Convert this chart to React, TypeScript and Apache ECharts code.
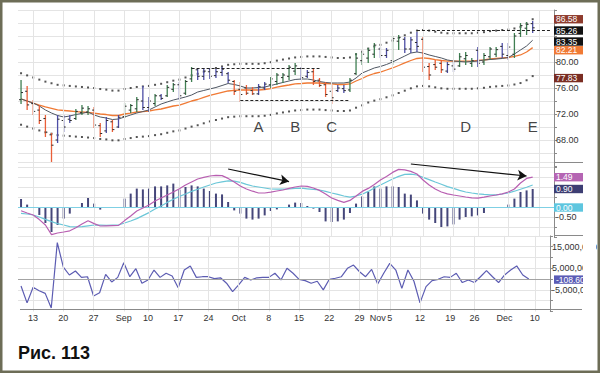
import React, { useEffect, useRef } from 'react';
import * as echarts from 'echarts';

// ---- categories (trading days, 2007) ----
const dates = [
  '08-09','08-10','08-13','08-14','08-15','08-16','08-17','08-20','08-21','08-22','08-23','08-24','08-27','08-28','08-29','08-30','08-31',
  '09-04','09-05','09-06','09-07','09-10','09-11','09-12','09-13','09-14','09-17','09-18','09-19','09-20','09-21','09-24','09-25','09-26','09-27','09-28',
  '10-01','10-02','10-03','10-04','10-05','10-08','10-09','10-10','10-11','10-12','10-15','10-16','10-17','10-18','10-19','10-22','10-23','10-24','10-25','10-26','10-29','10-30','10-31',
  '11-01','11-02','11-05','11-06','11-07','11-08','11-09','11-12','11-13','11-14','11-15','11-16','11-19','11-20','11-21','11-23','11-26','11-27','11-28','11-29','11-30',
  '12-03','12-04','12-05','12-06','12-07','12-10','12-11','12-12'
];
const labelDates = ['08-13','08-20','08-27','09-04','09-10','09-17','09-24','10-01','10-08','10-15','10-22','10-29','11-01','11-05','11-12','11-19','11-26','12-03','12-10'];
const labelTexts = ['13','20','27','Sep','10','17','24','Oct','8','15','22','29','Nov','5','12','19','26','Dec','10'];

// ---- price bars ----
const highs = [77.23,76.31,74.15,73.38,71.85,69.08,71.85,71.85,71.85,72.77,73.38,73.23,73.08,70.62,71.54,71.08,71.85,73.69,73.54,74.62,76.31,74.62,75.08,75.08,76.46,76.77,76.92,77.23,79.23,78.92,79.08,79.08,78.92,79.23,78.46,77.23,76.92,76.46,76.15,76.62,76.92,77.69,78.31,78.31,79.54,79.85,79.23,78.77,78.92,77.54,76.92,76.46,76.46,76.46,77.54,81.38,81.54,82.15,82.92,82.31,82.15,84.00,84.15,83.85,83.85,84.62,83.85,79.85,80.31,80.31,80.00,80.00,81.38,81.54,80.62,82.31,81.38,82.31,82.31,82.92,82.92,84.46,86.00,86.15,86.31];
const lows = [73.54,72.62,71.85,70.46,68.46,64.62,67.54,69.23,70.62,71.08,71.85,71.85,69.85,68.46,69.08,69.23,69.85,71.38,72.15,72.31,72.62,72.31,73.23,74.15,74.62,75.38,74.15,74.92,76.92,77.23,77.23,77.38,77.54,77.85,76.77,74.92,73.85,74.92,74.92,74.92,75.69,76.00,76.46,76.77,77.23,78.00,77.23,77.54,76.46,76.15,74.62,73.54,75.38,75.23,75.38,78.00,79.54,79.85,80.62,80.62,80.62,79.54,81.85,81.38,81.38,81.54,78.46,77.23,78.77,78.31,78.31,78.46,79.23,79.54,79.23,79.23,79.54,80.31,80.77,80.62,80.31,80.62,83.85,84.15,84.46];
const opens = [74.2,75.5,73.6,72.6,71.3,68.8,68.0,71.0,71.2,71.3,72.2,72.3,72.6,70.2,69.4,70.8,70.0,71.6,72.6,72.8,74.0,73.0,73.6,74.8,74.8,75.8,76.5,75.2,77.4,78.8,77.8,78.5,77.9,78.4,78.2,77.0,75.8,76.0,75.6,75.1,76.0,76.5,77.0,77.6,77.8,78.6,79.0,77.8,78.5,77.2,76.5,75.5,75.6,75.9,75.7,78.2,80.2,80.6,81.2,82.0,81.0,80.2,83.2,83.5,82.0,83.0,83.5,79.3,79.6,79.8,78.6,79.4,79.4,80.5,79.8,81.8,80.0,80.8,81.2,82.4,81.0,81.2,84.4,85.2,85.9];
const closes = [75.3,73.4,72.4,71.0,69.2,67.2,71.2,70.0,71.0,72.4,72.9,72.8,70.3,69.0,71.0,69.6,71.5,73.2,73.3,74.2,73.0,74.0,74.8,74.4,76.1,76.5,74.8,77.0,79.0,77.8,78.6,77.8,78.5,78.9,77.2,75.5,75.0,75.2,75.1,76.2,76.6,77.4,78.0,78.0,79.2,79.4,77.6,78.4,77.0,76.4,75.0,74.5,76.0,75.6,77.2,80.6,81.2,81.8,82.6,81.0,81.8,83.6,83.8,82.0,83.4,82.4,79.2,78.0,79.2,78.8,79.6,78.9,80.8,81.0,80.2,79.8,81.0,82.0,81.9,81.2,82.3,84.0,85.6,85.8,85.26];
// bar colour code: g = green, b = blue, r = red
const impulse = ('grrrrrbbbg' + 'ggrrbrbggg' + 'bbgbggbggb' + 'bbbbbrrrrb' + 'bgggggbbrr' + 'rrbbgggggb' + 'bggbbbrrrr' + 'bbgggbgggb' + 'bgggb').split('');

// ---- moving averages and channel ----
const fastEMA = [74.31,74.00,73.69,73.23,72.62,72.15,71.77,71.54,71.69,71.92,72.08,72.31,71.85,71.54,71.38,71.15,71.23,71.54,71.85,72.15,72.38,72.62,73.08,73.54,73.85,74.15,74.38,74.62,74.92,75.38,75.62,75.85,76.08,76.38,76.69,76.54,76.31,76.00,76.00,76.08,76.15,76.38,76.62,76.85,77.08,77.31,77.38,77.38,77.23,77.00,76.85,76.77,76.77,76.77,76.92,77.54,78.31,78.69,79.08,79.31,79.62,80.00,80.46,80.92,81.38,81.54,81.38,81.08,80.85,80.62,80.31,80.15,80.08,80.00,80.08,80.15,80.31,80.38,80.46,80.54,80.69,81.23,81.85,82.46,83.35];
const slowEMA = [74.31,74.00,73.69,73.38,73.08,72.85,72.62,72.54,72.46,72.38,72.31,72.23,72.15,72.00,71.92,71.77,71.77,72.00,72.15,72.31,72.38,72.46,72.62,72.77,73.00,73.23,73.38,73.69,74.00,74.23,74.54,74.85,75.08,75.31,75.54,75.62,75.69,75.69,75.69,75.69,75.77,75.92,76.15,76.31,76.46,76.62,76.69,76.77,76.77,76.77,76.69,76.62,76.54,76.54,76.62,77.08,77.46,77.92,78.23,78.46,78.77,79.08,79.46,79.85,80.23,80.54,80.62,80.54,80.38,80.23,80.15,80.15,80.15,80.15,80.15,80.23,80.31,80.46,80.54,80.62,80.69,80.85,81.08,81.54,82.21];
const upperEnv = [78.27,77.94,77.62,77.29,76.98,76.73,76.49,76.41,76.32,76.24,76.16,76.08,76.00,75.84,75.75,75.60,75.60,75.84,76.00,76.16,76.24,76.32,76.49,76.65,76.89,77.13,77.29,77.62,77.94,78.19,78.51,78.84,79.08,79.32,79.57,79.65,79.72,79.72,79.72,79.72,79.81,79.97,80.21,80.38,80.54,80.70,80.78,80.86,80.86,80.86,80.78,80.70,80.62,80.62,80.70,81.19,81.59,82.07,82.40,82.64,82.97,83.30,83.70,84.11,84.51,84.83,84.92,84.83,84.66,84.51,84.42,84.42,84.42,84.42,84.42,84.51,84.59,84.75,84.83,84.92,84.99,85.16,85.40,85.89,86.58];
const lowerEnv = [70.35,70.06,69.76,69.47,69.19,68.97,68.75,68.67,68.60,68.52,68.46,68.38,68.30,68.16,68.09,67.95,67.95,68.16,68.30,68.46,68.52,68.60,68.75,68.89,69.11,69.33,69.47,69.76,70.06,70.27,70.57,70.86,71.08,71.30,71.51,71.59,71.66,71.66,71.66,71.66,71.73,71.87,72.09,72.24,72.39,72.54,72.60,72.68,72.68,72.68,72.60,72.54,72.46,72.46,72.54,72.97,73.33,73.77,74.06,74.28,74.57,74.87,75.23,75.59,75.95,76.25,76.32,76.25,76.10,75.95,75.88,75.88,75.88,75.88,75.88,75.95,76.03,76.17,76.25,76.32,76.39,76.54,76.76,77.19,77.83];

// ---- MACD panel ----
const macdLine = [-0.19,-0.30,-0.40,-0.63,-0.90,-1.38,-1.30,-1.25,-1.19,-1.04,-0.85,-0.69,-0.83,-0.95,-0.94,-0.93,-0.92,-0.68,-0.45,-0.20,-0.05,0.10,0.30,0.45,0.60,0.75,0.91,1.10,1.25,1.40,1.48,1.55,1.58,1.57,1.43,1.25,1.05,0.90,0.79,0.70,0.70,0.74,0.80,0.85,0.93,1.00,1.05,1.03,0.95,0.83,0.65,0.45,0.33,0.23,0.33,0.55,0.78,0.93,1.13,1.35,1.53,1.73,1.88,1.86,1.78,1.65,1.35,1.10,0.90,0.75,0.66,0.60,0.55,0.50,0.46,0.44,0.49,0.55,0.60,0.66,0.75,0.90,1.20,1.43,1.49];
const signalLine = [-0.32,-0.35,-0.40,-0.50,-0.62,-0.73,-0.83,-0.90,-0.98,-0.99,-0.98,-0.94,-0.90,-0.91,-0.92,-0.91,-0.90,-0.80,-0.70,-0.58,-0.43,-0.28,-0.10,0.05,0.23,0.39,0.53,0.65,0.78,0.89,1.00,1.10,1.20,1.26,1.31,1.29,1.23,1.13,1.05,1.00,0.95,0.90,0.89,0.89,0.90,0.93,0.94,0.91,0.88,0.85,0.78,0.70,0.63,0.55,0.49,0.55,0.64,0.78,0.95,1.10,1.25,1.40,1.53,1.63,1.64,1.60,1.48,1.37,1.25,1.14,1.02,0.93,0.83,0.75,0.70,0.66,0.63,0.61,0.61,0.65,0.70,0.79,0.89,0.99,1.10];
const histogram = [0.40,0.12,-0.05,-0.40,-0.80,-1.25,-0.90,-0.58,-0.33,-0.03,0.20,0.45,0.17,-0.13,-0.05,-0.03,-0.03,0.42,0.67,0.92,0.88,0.92,1.03,1.03,1.08,1.17,0.87,1.00,1.08,1.03,0.92,0.80,0.67,0.63,0.25,-0.17,-0.33,-0.58,-0.63,-0.58,-0.42,-0.20,-0.12,-0.05,0.12,0.22,0.20,0.05,-0.08,-0.25,-0.72,-0.75,-0.72,-0.63,-0.30,0.17,0.53,0.75,1.03,0.92,1.03,1.03,1.00,0.67,0.62,0.33,-0.33,-0.63,-0.80,-1.00,-0.97,-0.87,-0.63,-0.50,-0.47,-0.42,-0.30,-0.05,-0.03,-0.02,0.12,0.42,0.75,0.83,0.90];

// ---- Force index (millions) ----
const forceIndex = [-3.2,-11.0,-3.8,-5.4,-6.6,-13.4,16.9,5.5,1.9,3.75,0.8,1.1,-7.8,-6.3,2.2,-1.3,0.8,7.6,1.1,4.8,-1.9,-0.4,4.2,0.8,2.7,1.4,-4.0,4.2,6.1,0.8,1.1,1.1,0.2,0.6,-1.9,-5.8,-2.7,0.8,-0.4,0.6,0.8,0.8,2.7,-0.4,5.0,2.7,-0.1,-0.7,-1.9,-1.0,-5.0,-0.1,0.4,1.1,5.0,6.5,3.4,1.1,4.5,-2.3,2.7,7.3,4.2,-4.3,4.2,-1.0,-11.0,-3.5,-0.7,-0.1,1.1,0.8,2.7,-1.6,-0.4,-1.6,1.1,3.9,1.1,-1.6,1.9,4.2,6.1,1.9,-0.0001086];

// ---- annotations ----
const letterNames = ['A', 'B', 'C', 'D', 'E'];
const letterIdx = [39, 45, 51, 73, 84];
const letterPrice = [70.15, 70.15, 70.15, 70.15, 70.15];
const hLines = [
  { from: 28, to: 49, value: 79.05 },
  { from: 36, to: 54, value: 74.05 },
  { from: 65, to: 87, value: 84.95 },
];
const arrows = [
  { from: [34, 1.9], to: [44, 1.27] },
  { from: [64, 2.15], to: [83, 1.55] },
];

const FONT = '"Liberation Sans", Arial, sans-serif';
const GRID_COLOR = '#e4e4e4';
const AXIS_COLOR = '#8a8a8a';
const barColors: Record<string, string> = { g: '#3f7f52', b: '#4d4ea6', r: '#ea5f38' };

export default function App() {
  const ref = useRef<HTMLDivElement>(null);

  useEffect(() => {
    const el = ref.current;
    if (!el) return;
    const chart = echarts.init(el, null, { renderer: 'svg' });

    const labelMap = new Map<string, string>();
    labelDates.forEach((d, k) => labelMap.set(d, labelTexts[k]));
    const labelIdx = dates.map((d, i) => (labelMap.has(d) ? i : -1)).filter((i) => i >= 0);

    const xAxisFor = (gi: number, showLabels: boolean) => ({
      type: 'category',
      gridIndex: gi,
      data: dates,
      boundaryGap: true,
      axisLine: { show: false },
      axisTick: { show: false },
      splitLine: { show: false },
      axisLabel: showLabels
        ? {
            interval: (i: number) => labelMap.has(dates[i]),
            formatter: (v: string) => labelMap.get(v) ?? '',
            fontSize: 9,
            color: '#333',
            margin: 2,
            fontFamily: FONT,
          }
        : { show: false },
    });

    const yAxisBase = {
      type: 'value',
      position: 'right',
      axisLine: { show: true, lineStyle: { color: AXIS_COLOR } },
      axisTick: { show: true, length: 3, lineStyle: { color: AXIS_COLOR } },
      splitLine: { show: true, showMinLine: false, lineStyle: { color: GRID_COLOR } },
    };

    const vGrid = (gi: number) => ({
      type: 'line',
      xAxisIndex: gi,
      yAxisIndex: gi,
      data: closes.map(() => null),
      symbol: 'none',
      silent: true,
      z: 1,
      lineStyle: { opacity: 0 },
      markLine: {
        silent: true,
        symbol: 'none',
        animation: false,
        label: { show: false },
        lineStyle: { color: GRID_COLOR, type: 'solid', width: 1 },
        data: labelIdx.map((i) => ({ xAxis: i })),
      },
    });

    const ohlc = highs.map((h, i) => [i, opens[i], closes[i], lows[i], h, impulse[i] === 'g' ? 0 : impulse[i] === 'b' ? 1 : 2]);
    const codeColors = [barColors.g, barColors.b, barColors.r];

    const option: any = {
      animation: false,
      textStyle: { fontFamily: FONT },
      grid: [
        { left: 18, width: 536, top: 10, height: 156 },
        { left: 18, width: 536, top: 162, height: 75 },
        { left: 18, width: 536, top: 235.9, height: 75.6 },
      ],
      xAxis: [xAxisFor(0, false), xAxisFor(1, false), { ...xAxisFor(2, true) }],
      yAxis: [
        {
          ...yAxisBase,
          gridIndex: 0,
          min: 64,
          max: 88,
          interval: 2,
          axisLabel: {
            fontSize: 9,
            color: '#333',
            margin: 2,
            formatter: (v: number) => ([68, 72, 76, 80].includes(v) ? v.toFixed(2) : ''),
          },
        },
        {
          ...yAxisBase,
          gridIndex: 1,
          min: -1.5,
          max: 2.25,
          interval: 0.5,
          axisLabel: {
            fontSize: 9,
            color: '#333',
            margin: 2,
            formatter: (v: number) => (Math.abs(v + 0.5) < 1e-6 ? '-0.50' : ''),
          },
        },
        {
          ...yAxisBase,
          gridIndex: 2,
          min: -15,
          max: 20,
          interval: 5,
          axisLabel: {
            fontSize: 9,
            color: '#333',
            margin: 2,
            formatter: (v: number) => ([15, 5, -5].includes(v) ? (v * 1e6).toLocaleString('en-US') : ''),
          },
        },
      ],
      series: [
        vGrid(0),
        vGrid(1),
        vGrid(2),
        {
          type: 'scatter',
          xAxisIndex: 0,
          yAxisIndex: 0,
          data: upperEnv.map((v, i) => [i, v]),
          symbol: 'rect',
          symbolSize: 2,
          itemStyle: { color: '#2a2a2a' },
          silent: true,
          z: 3,
        },
        {
          type: 'scatter',
          xAxisIndex: 0,
          yAxisIndex: 0,
          data: lowerEnv.map((v, i) => [i, v]),
          symbol: 'rect',
          symbolSize: 2,
          itemStyle: { color: '#2a2a2a' },
          silent: true,
          z: 3,
        },
        {
          type: 'line',
          xAxisIndex: 0,
          yAxisIndex: 0,
          data: slowEMA,
          symbol: 'none',
          lineStyle: { color: '#f07a35', width: 1.3 },
          z: 3,
          markLine: {
            silent: true,
            symbol: 'none',
            label: { show: false },
            lineStyle: { color: '#222', type: [3, 2], width: 1 },
            data: hLines.map((l) => [
              { coord: [l.from, l.value] },
              { coord: [l.to, l.value] },
            ]),
          },
        },
        {
          type: 'line',
          xAxisIndex: 0,
          yAxisIndex: 0,
          data: fastEMA,
          symbol: 'none',
          lineStyle: { color: '#4e5662', width: 1 },
          z: 3,
        },
        {
          type: 'custom',
          xAxisIndex: 0,
          yAxisIndex: 0,
          data: ohlc,
          encode: { x: 0, y: [1, 2, 3, 4] },
          z: 4,
          renderItem: (_params: any, api: any) => {
            const i = api.value(0);
            const o = api.coord([i, api.value(1)]);
            const c = api.coord([i, api.value(2)]);
            const l = api.coord([i, api.value(3)]);
            const h = api.coord([i, api.value(4)]);
            const col = codeColors[api.value(5)];
            const tick = { stroke: '#2a2a2a', lineWidth: 1 };
            return {
              type: 'group',
              children: [
                { type: 'line', shape: { x1: h[0], y1: h[1], x2: l[0], y2: l[1] }, style: { stroke: col, lineWidth: 1.3 } },
                { type: 'line', shape: { x1: o[0] - 2, y1: o[1], x2: o[0], y2: o[1] }, style: tick },
                { type: 'line', shape: { x1: c[0], y1: c[1], x2: c[0] + 2, y2: c[1] }, style: tick },
              ],
            };
          },
        },
        {
          type: 'scatter',
          xAxisIndex: 0,
          yAxisIndex: 0,
          data: letterNames.map((n, k) => ({ value: [letterIdx[k], letterPrice[k]], name: n })),
          symbolSize: 1,
          itemStyle: { color: 'rgba(0,0,0,0)' },
          silent: true,
          z: 5,
          label: {
            show: true,
            position: 'inside',
            formatter: (p: any) => p.name,
            fontSize: 15,
            color: '#111',
            fontFamily: FONT,
          },
        },
        {
          type: 'bar',
          xAxisIndex: 1,
          yAxisIndex: 1,
          data: histogram,
          barWidth: 2,
          itemStyle: { color: '#45467a' },
          z: 3,
          markLine: {
            silent: true,
            symbol: 'none',
            label: { show: false },
            lineStyle: { color: '#7fd0e4', type: 'solid', width: 1 },
            data: [{ yAxis: 0 }],
          },
        },
        {
          type: 'line',
          xAxisIndex: 1,
          yAxisIndex: 1,
          data: signalLine,
          symbol: 'none',
          lineStyle: { color: '#6cc7d8', width: 1.2 },
          z: 4,
        },
        {
          type: 'line',
          xAxisIndex: 1,
          yAxisIndex: 1,
          data: macdLine,
          symbol: 'none',
          lineStyle: { color: '#b85fb1', width: 1.2 },
          z: 5,
          markLine: {
            silent: true,
            symbol: ['none', 'arrow'],
            symbolSize: [8, 9],
            label: { show: false },
            lineStyle: { color: '#111', type: 'solid', width: 1.2 },
            data: arrows.map((a) => [{ coord: a.from }, { coord: a.to }]),
          },
        },
        {
          type: 'line',
          xAxisIndex: 2,
          yAxisIndex: 2,
          data: forceIndex,
          symbol: 'none',
          lineStyle: { color: '#5c5cb2', width: 1.2 },
          z: 4,
          markLine: {
            silent: true,
            symbol: 'none',
            label: { show: false },
            lineStyle: { color: '#a3a3a3', type: 'solid', width: 1 },
            data: [{ yAxis: 0 }],
          },
        },
      ],
    };

    chart.setOption(option);

    // value tags on the right axis
    const last = highs.length - 1;
    const tags = [
      { axis: 0, value: upperEnv[last], text: upperEnv[last].toFixed(2), color: '#8e3b2d', nudge: 0 },
      { axis: 0, value: closes[last], text: closes[last].toFixed(2), color: '#121212', nudge: 2.7 },
      { axis: 0, value: fastEMA[last], text: fastEMA[last].toFixed(2), color: '#121212', nudge: 1.3 },
      { axis: 0, value: slowEMA[last], text: slowEMA[last].toFixed(2), color: '#f07a35', nudge: 2.6 },
      { axis: 0, value: lowerEnv[last], text: lowerEnv[last].toFixed(2), color: '#7a2d23', nudge: 2 },
      { axis: 1, value: macdLine[last], text: macdLine[last].toFixed(2), color: '#b565b3', nudge: 0 },
      { axis: 1, value: histogram[last], text: histogram[last].toFixed(2), color: '#3d3e73', nudge: 0 },
      { axis: 1, value: 0, text: '0.00', color: '#5ec6df', nudge: 0.5 },
      { axis: 2, value: forceIndex[last], text: (forceIndex[last] * 1e6).toFixed(2), color: '#5b5cb5', nudge: 0.5 },
    ];
    const tagGraphics: any[] = [];
    tags.forEach((t) => {
      const y = (chart.convertToPixel({ yAxisIndex: t.axis } as any, t.value) as unknown as number) + t.nudge;
      tagGraphics.push({
        type: 'rect',
        shape: { x: 554, y: y - 4.2, width: 29, height: 8.4 },
        style: { fill: t.color },
        z: 100,
      });
      tagGraphics.push({
        type: 'text',
        x: 556,
        y: y,
        style: { text: t.text, fill: '#ffffff', font: `8.5px ${FONT}`, verticalAlign: 'middle', lineHeight: 8 },
        z: 101,
      });
    });

    chart.setOption({
      graphic: [
        ...tagGraphics,
        // clip area right of the label column
        { type: 'rect', shape: { x: 583, y: 0, width: 13, height: 373 }, style: { fill: '#ffffff' }, z: 110 },
        // x axis baseline
        { type: 'line', shape: { x1: 20, y1: 309.5, x2: 582, y2: 309.5 }, style: { stroke: AXIS_COLOR, lineWidth: 1 }, z: 90 },
        // panel separators in the label column
        { type: 'line', shape: { x1: 554, y1: 162.5, x2: 583, y2: 162.5 }, style: { stroke: AXIS_COLOR, lineWidth: 1 }, z: 90 },
        { type: 'line', shape: { x1: 554, y1: 235.5, x2: 583, y2: 235.5 }, style: { stroke: AXIS_COLOR, lineWidth: 1 }, z: 90 },
        // caption
        {
          type: 'text',
          x: 18,
          y: 352.5,
          style: { text: 'Рис. 113', fill: '#111', font: `bold 18px ${FONT}`, verticalAlign: 'middle' },
          z: 120,
        },
        // outer frame
        {
          type: 'rect',
          shape: { x: 1.25, y: 1.25, width: 597.5, height: 370.5 },
          style: { fill: 'none', stroke: '#6d6d57', lineWidth: 2.5 },
          z: 130,
        },
      ],
    });

    return () => {
      chart.dispose();
    };
  }, []);

  return (
    <div
      ref={ref}
      style={{ position: 'absolute', left: 0, top: 0, width: 600, height: 373, background: '#ffffff' }}
    />
  );
}
